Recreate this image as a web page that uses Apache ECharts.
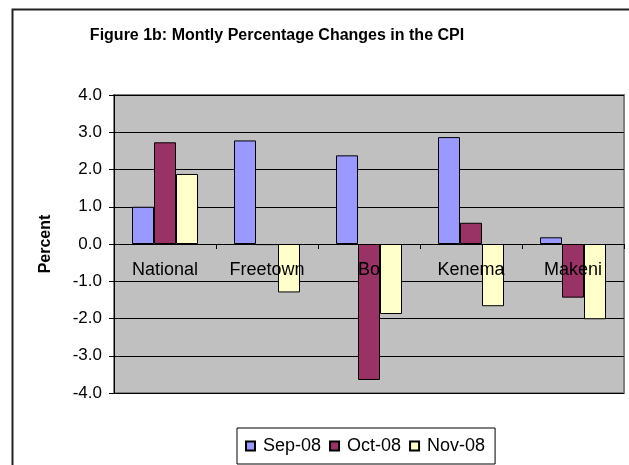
<!DOCTYPE html>
<html>
<head>
<meta charset="utf-8">
<script src="https://cdn.jsdelivr.net/npm/echarts@6/dist/echarts.min.js"></script>
<style>html,body{margin:0;padding:0;background:#fff;}#c{width:629px;height:465px;}</style>
</head>
<body>
<div id="c"></div>
<script>
const categories = ["National", "Freetown", "Bo", "Kenema", "Makeni"];
const seriesNames = ["Sep-08", "Oct-08", "Nov-08"];
const sep08 = [1.0, 2.78, 2.38, 2.87, 0.18];
const oct08 = [2.73, -0.03, -3.65, 0.57, -1.44];
const nov08 = [1.88, -1.30, -1.88, -1.67, -2.02];
const colors = ["#9999FF", "#993366", "#FFFFCC"];
const yTicks = [-4, -3, -2, -1, 0, 1, 2, 3, 4];

const font = "'Liberation Sans', Arial, sans-serif";
const chart = echarts.init(document.getElementById('c'), null, {renderer: 'canvas'});
const data = [sep08, oct08, nov08];
chart.setOption({
  animation: false,
  backgroundColor: '#fff',
  title: {
    text: 'Figure 1b: Montly Percentage Changes in the CPI',
    left: 272, top: 23, textAlign: 'center',
    textStyle: {fontFamily: font, fontSize: 16, fontWeight: 'bold', color: '#000'}
  },
  graphic: [{
    type: 'rect', left: 10, top: 7, silent: true, z: -10,
    shape: {width: 640, height: 480},
    style: {fill: 'none', stroke: '#222', lineWidth: 2}
  }],
  legend: {
    data: seriesNames,
    left: 237, top: 428,
    padding: [9, 10, 9, 8],
    itemGap: 8,
    itemWidth: 9, itemHeight: 9,
    icon: 'rect',
    borderColor: '#000', borderWidth: 1,
    textStyle: {fontFamily: font, fontSize: 18, color: '#000', padding: [0, 0, 0, 3]}
  },
  grid: {
    left: 114, right: 5, top: 95, bottom: 72,
    show: true, backgroundColor: '#C0C0C0', borderColor: '#808080', borderWidth: 2
  },
  xAxis: {
    type: 'category', data: categories, z: 10,
    axisLine: {onZero: true, lineStyle: {color: '#000', width: 1}},
    axisTick: {show: true, length: 5, lineStyle: {color: '#000'}},
    axisLabel: {fontFamily: font, fontSize: 18, color: '#000', margin: -132}
  },
  yAxis: {
    type: 'value', min: -4, max: 4, interval: 1,
    name: 'Percent', nameLocation: 'middle', nameGap: 60, nameRotate: 90,
    nameTextStyle: {fontFamily: font, fontSize: 16, fontWeight: 'bold', color: '#000'},
    axisLine: {show: true, lineStyle: {color: '#000', width: 1}},
    axisTick: {show: true, inside: false, length: 5, lineStyle: {color: '#000'}},
    axisLabel: {fontFamily: font, fontSize: 17, color: '#000', margin: 12,
      formatter: v => yTicks.includes(v) ? v.toFixed(1) : ''},
    splitLine: {show: true, lineStyle: {color: '#000', width: 1}}
  },
  series: seriesNames.map((n, i) => ({
    name: n, type: 'bar', data: data[i],
    barWidth: 22, barGap: '0%',
    itemStyle: {color: colors[i], borderColor: '#000', borderWidth: 1}
  }))
});
</script>
</body>
</html>
